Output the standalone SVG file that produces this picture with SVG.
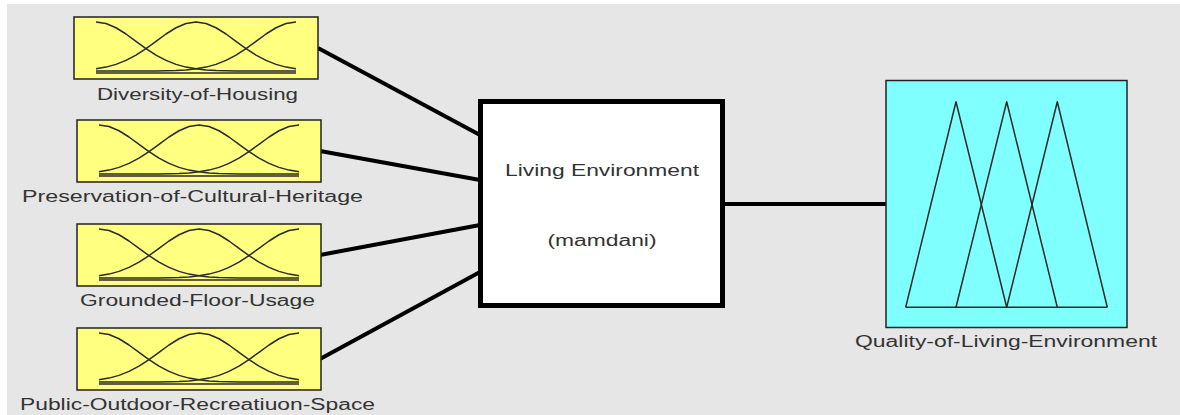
<svg xmlns="http://www.w3.org/2000/svg" width="1180" height="415" viewBox="0 0 1180 415">
<style>
.lbl{font-family:"Liberation Sans",Arial,sans-serif;font-size:16px;fill:#333;text-anchor:middle}
.inbox{fill:#ffff80;stroke:#222;stroke-width:1.5}
.mfc{fill:none;stroke:#2a2a2a;stroke-width:1.5;stroke-linejoin:round}
.conn{stroke:#000;stroke-width:4;fill:none}
</style>
<defs>
<g id="gaussmf">
<rect class="inbox" x="0" y="0" width="244" height="62"/>
<polyline class="mfc" points="22,5 32,6.51 42,10.76 52,17.01 62,24.28 72,31.57 82,38.09 92,43.4 102,47.37 112,50.1 122,51.85 132,52.88 142,53.46 152,53.75 162,53.89 172,54 222,54"/>
<polyline class="mfc" points="22,51.85 32,50.1 42,47.37 52,43.4 62,38.09 72,31.57 82,24.28 92,17.01 102,10.76 112,6.51 122,5 132,6.51 142,10.76 152,17.01 162,24.28 172,31.57 182,38.09 192,43.4 202,47.37 212,50.1 222,51.85"/>
<polyline class="mfc" points="22,54 72,54 82,53.89 92,53.75 102,53.46 112,52.88 122,51.85 132,50.1 142,47.37 152,43.4 162,38.09 172,31.57 182,24.28 192,17.01 202,10.76 212,6.51 222,5"/>
<line class="mfc" x1="22" y1="56" x2="222" y2="56" stroke-width="1.2"/>
</g>
</defs>
<rect x="0" y="0" width="1180" height="415" fill="#ffffff"/>
<rect x="7" y="4" width="1173" height="411" fill="#e6e6e6"/>
<g id="connectors">
<line class="conn" x1="318" y1="48" x2="480" y2="135"/>
<line class="conn" x1="320" y1="151" x2="480" y2="180"/>
<line class="conn" x1="320" y1="255" x2="480" y2="225"/>
<line class="conn" x1="320" y1="359" x2="480" y2="272"/>
<line class="conn" x1="725" y1="204" x2="886" y2="204"/>
</g>
<g id="input1">
<use href="#gaussmf" transform="translate(74,17)"/>
<text class="lbl" x="197.5" y="99.5" textLength="201" lengthAdjust="spacingAndGlyphs">Diversity-of-Housing</text>
</g>
<g id="input2">
<use href="#gaussmf" transform="translate(77,120)"/>
<text class="lbl" x="192.5" y="202" textLength="341" lengthAdjust="spacingAndGlyphs">Preservation-of-Cultural-Heritage</text>
</g>
<g id="input3">
<use href="#gaussmf" transform="translate(77,224)"/>
<text class="lbl" x="197.5" y="305.5" textLength="235" lengthAdjust="spacingAndGlyphs">Grounded-Floor-Usage</text>
</g>
<g id="input4">
<use href="#gaussmf" transform="translate(77,328)"/>
<text class="lbl" x="197.5" y="409.5" textLength="355" lengthAdjust="spacingAndGlyphs">Public-Outdoor-Recreatiuon-Space</text>
</g>
<g id="system">
<rect x="480.5" y="101.5" width="242" height="204" fill="#ffffff" stroke="#000" stroke-width="5"/>
<text class="lbl" x="602" y="175.5" textLength="194" lengthAdjust="spacingAndGlyphs">Living Environment</text>
<text class="lbl" x="602" y="245.5" textLength="109" lengthAdjust="spacingAndGlyphs">(mamdani)</text>
</g>
<g id="output">
<rect x="886" y="80.5" width="241" height="247" fill="#80ffff" stroke="#222" stroke-width="1.5"/>
<polyline class="mfc" points="905.7,307.3 956,101.7 1006.7,307.3"/>
<polyline class="mfc" points="956,307.3 1006.7,101.7 1057.3,307.3"/>
<polyline class="mfc" points="1006.7,307.3 1057.3,101.7 1107.3,307.3"/>
<line class="mfc" x1="905.7" y1="307.3" x2="1107.3" y2="307.3"/>
<text class="lbl" x="1006" y="347" textLength="302" lengthAdjust="spacingAndGlyphs">Quality-of-Living-Environment</text>
</g>
</svg>
